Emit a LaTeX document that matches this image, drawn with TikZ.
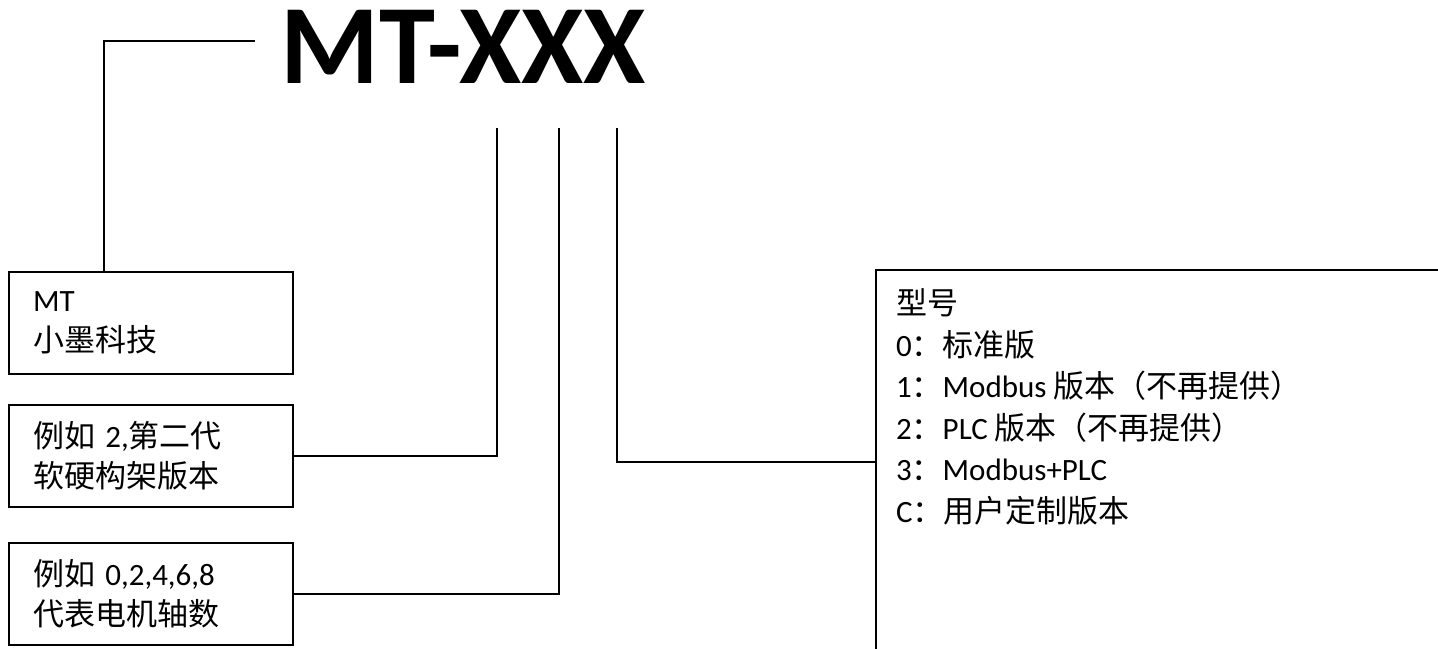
\documentclass[tikz,border=0pt]{standalone}
\usepackage{fontspec}
\setmainfont{Carlito}
\newfontfamily\cjk{Noto Sans CJK SC}
\usetikzlibrary{positioning}

\begin{document}
\begin{tikzpicture}[x=0.5pt,y=-0.5pt,line width=1pt,
  every node/.style={font=\fontsize{15.5}{20}\selectfont},
  infobox/.style={draw,anchor=north west,align=left,inner xsep=12pt,text width=118pt,minimum height=51pt}]
  \clip (0,0) rectangle (1438,648);
  \node[anchor=base,font=\fontsize{56.5}{60}\selectfont\bfseries] (title) at (463.5,83) {MT-XXX};
  \node[infobox] (maker) at (8,271) {MT\\{\cjk 小墨科技}};
  \node[infobox] (arch) at (8,404) {{\cjk 例如} 2,{\cjk 第二代}\\{\cjk 软硬构架版本}};
  \node[infobox] (axes) at (8,542) {{\cjk 例如} 0,2,4,6,8\\{\cjk 代表电机轴数}};
  \node[draw,anchor=north west,minimum width=300pt,minimum height=192pt,inner sep=0] (model) at (875,269) {};
  \node[anchor=north west,align=left,inner sep=0,font=\fontsize{15.5}{20.75}\selectfont] (modeltext) at (895,288)
    {{\cjk 型号}\\0{\cjk ：标准版}\\1{\cjk ：}Modbus {\cjk 版本（不再提供）}\\2{\cjk ：}PLC {\cjk 版本（不再提供）}\\3{\cjk ：}Modbus+PLC\\C{\cjk ：用户定制版本}};
  \coordinate (t0) at (255,41);
  \coordinate (c1) at (497,128);
  \coordinate (c2) at (559,128);
  \coordinate (c3) at (617,128);
  \draw (t0) -| ([xshift=48pt]maker.north west);
  \draw (c1) |- (arch.east);
  \draw (c2) |- (axes.east);
  \draw (c3) |- (model.west);
\end{tikzpicture}
\end{document}
